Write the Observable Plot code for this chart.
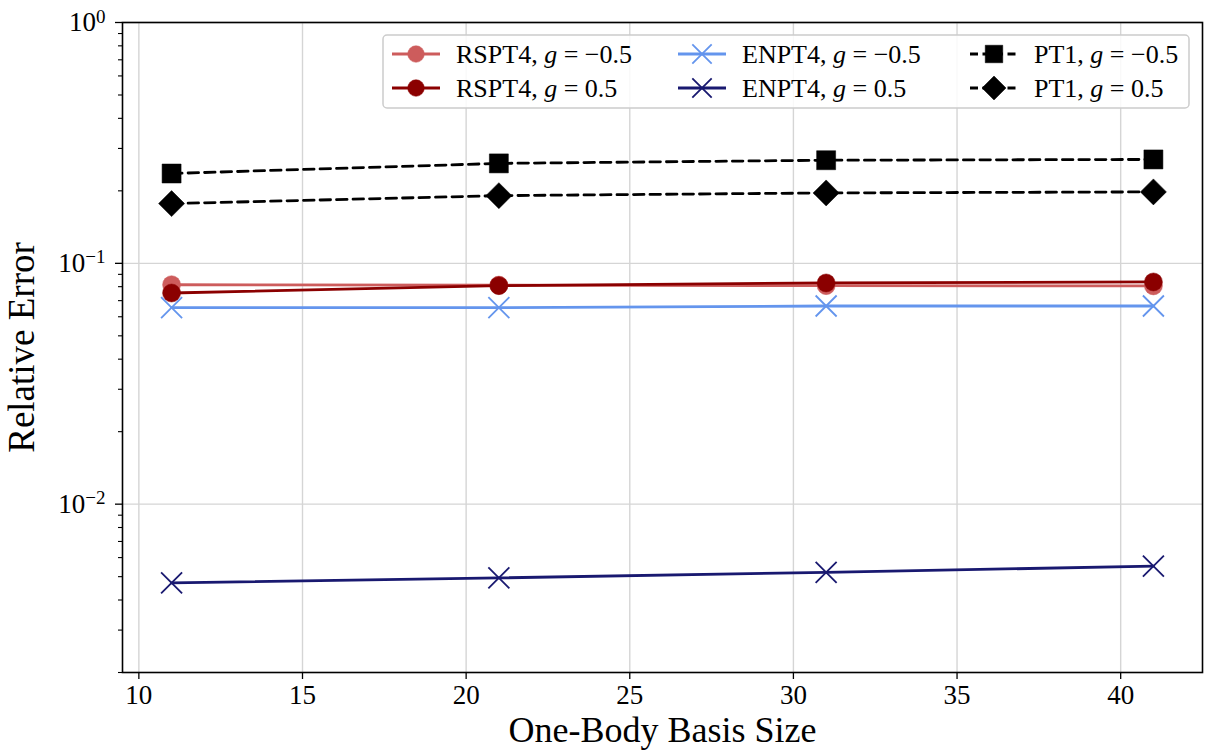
<!DOCTYPE html>
<html>
<head>
<meta charset="utf-8">
<script src="https://cdn.jsdelivr.net/npm/d3@7"></script>
<script src="https://cdn.jsdelivr.net/npm/@observablehq/plot@0.6"></script>
<style>
  html, body { margin: 0; padding: 0; background: white; }
  #wrap { position: relative; width: 1206px; height: 752px; overflow: hidden; }
  #legend { position: absolute; left: 0; top: 0; pointer-events: none; }
</style>
</head>
<body>
<div id="wrap"></div>
<script>
// ---- Data ----
const basisSizes = [11, 21, 31, 41];
const rspt4Neg = [0.0815, 0.0812, 0.0808, 0.0806];
const rspt4Pos = [0.0753, 0.0808, 0.0829, 0.0837];
const enpt4Neg = [0.0655, 0.0655, 0.0665, 0.0665];
const enpt4Pos = [0.00471, 0.00494, 0.00521, 0.00553];
const pt1Neg = [0.236, 0.260, 0.268, 0.270];
const pt1Pos = [0.177, 0.191, 0.196, 0.198];
const seriesLabels = [
  ["RSPT4", "−0.5"], ["RSPT4", "0.5"],
  ["ENPT4", "−0.5"], ["ENPT4", "0.5"],
  ["PT1", "−0.5"], ["PT1", "0.5"]
];
const xTicks = [10, 15, 20, 25, 30, 35, 40];
const yMajor = [1, 0.1, 0.01];
const yMinor = [2,3,4,5,6,7,8,9].flatMap(k => [k * 1e-3, k * 1e-2, k * 1e-1]);

// ---- Symbols ----
const rad = size => Math.sqrt(size / Math.PI);
const symCircle = { draw(ctx, size) { const r = rad(size); ctx.moveTo(r, 0); ctx.arc(0, 0, r, 0, 2 * Math.PI); } };
const symX = { draw(ctx, size) { const r = rad(size); ctx.moveTo(-r, -r); ctx.lineTo(r, r); ctx.moveTo(-r, r); ctx.lineTo(r, -r); } };
const symSquare = { draw(ctx, size) { const r = rad(size); ctx.rect(-r, -r, 2 * r, 2 * r); } };
const symDiamond = { draw(ctx, size) { const r = rad(size); ctx.moveTo(0, -r); ctx.lineTo(r, 0); ctx.lineTo(0, r); ctx.lineTo(-r, 0); ctx.closePath(); } };

const DASH = "10.5,6";
const styles = [
  { values: rspt4Neg, color: "#cd5c5c", sym: symCircle, r: 9, filled: true, dash: null },
  { values: rspt4Pos, color: "#8b0000", sym: symCircle, r: 9, filled: true, dash: null },
  { values: enpt4Neg, color: "#6495ed", sym: symX, r: 10.5, filled: false, dash: null },
  { values: enpt4Pos, color: "#191970", sym: symX, r: 10.5, filled: false, dash: null },
  { values: pt1Neg, color: "#000000", sym: symSquare, r: 9.5, filled: true, dash: DASH },
  { values: pt1Pos, color: "#000000", sym: symDiamond, r: 13, filled: true, dash: DASH }
];

const series = styles.map((s, i) => ({
  ...s,
  label: seriesLabels[i],
  rows: basisSizes.map((x, j) => ({ x, y: s.values[j] }))
}));

const FONT = "'Liberation Serif', 'DejaVu Serif', serif";
const GRID = "#d5d5d5";

const marks = [
  Plot.gridX(xTicks, { stroke: GRID, strokeOpacity: 1, strokeWidth: 1.4 }),
  Plot.gridY(yMajor, { stroke: GRID, strokeOpacity: 1, strokeWidth: 1.4 })
];
for (const s of series) {
  marks.push(Plot.line(s.rows, { x: "x", y: "y", stroke: s.color, strokeWidth: 2.8, strokeDasharray: s.dash }));
  marks.push(Plot.dot(s.rows, {
    x: "x", y: "y", r: s.r, symbol: s.sym,
    fill: s.filled ? s.color : "none",
    stroke: s.color, strokeWidth: s.filled ? 0.5 : 1.8
  }));
}
marks.push(
  Plot.frame({ stroke: "black", strokeWidth: 1.6 }),
  Plot.axisX(xTicks, { tickSize: 7, tickPadding: 5, fontSize: 27, label: null, tickFormat: d => String(d), strokeWidth: 1.3 }),
  Plot.axisY(yMinor, { tickSize: 4, tickFormat: () => "", label: null, strokeWidth: 1.1 }),
  Plot.axisY(yMajor, { tickSize: 7, tickPadding: 10, fontSize: 27, label: null, strokeWidth: 1.3,
    tickFormat: d => "10^" + Math.round(Math.log10(d)) }),
  Plot.text(["One-Body Basis Size"], { frameAnchor: "bottom", dy: 69, fontSize: 36, fill: "black", text: d => d }),
  Plot.text(["Relative Error"], { frameAnchor: "left", dx: -100, rotate: -90, textAnchor: "middle", fontSize: 37, fill: "black", text: d => d })
);

const chart = Plot.plot({
  width: 1206, height: 752,
  marginLeft: 122, marginRight: 4, marginTop: 22, marginBottom: 80,
  style: { fontFamily: FONT, background: "white", color: "black", overflow: "visible" },
  x: { domain: [9.5, 42.5] },
  y: { type: "log", domain: [0.002, 1] },
  marks
});
document.getElementById("wrap").appendChild(chart);

// Tick label size + superscript exponents
chart.querySelectorAll("text").forEach(el => {
  const t = el.textContent.trim();
  if (/^\d+$/.test(t)) {
    el.setAttribute("font-size", "27");
    el.style.fontSize = "27px";
    return;
  }
  const m = /^10\^(-?\d+)$/.exec(t);
  if (!m) return;
  const exp = m[1].replace("-", "−");
  el.setAttribute("font-size", "27");
  el.style.fontSize = "27px";
  const sel = d3.select(el);
  sel.text(null);
  sel.append("tspan").text("10");
  sel.append("tspan").attr("dy", "-0.45em").style("font-size", "19px").text(exp);
});

// ---- Legend overlay ----
const lg = d3.select("#wrap").append("svg")
  .attr("id", "legend").attr("width", 1206).attr("height", 752)
  .style("font-family", FONT);
lg.append("rect")
  .attr("x", 383).attr("y", 35).attr("width", 806).attr("height", 73).attr("rx", 4)
  .attr("fill", "white").attr("fill-opacity", 0.85)
  .attr("stroke", "#cccccc").attr("stroke-width", 1.5);
const colX = [392, 678, 970];
const rowY = [54, 88];
series.forEach((s, i) => {
  const col = Math.floor(i / 2), row = i % 2;
  const x0 = colX[col], y0 = rowY[row];
  const g = lg.append("g").attr("transform", `translate(${x0},${y0})`);
  g.append("line").attr("x1", 0).attr("x2", 48).attr("y1", 0).attr("y2", 0)
    .attr("stroke", s.color).attr("stroke-width", 2.8)
    .attr("stroke-dasharray", s.dash ? "8,4.5" : null);
  g.append("path")
    .attr("transform", "translate(24,0)")
    .attr("d", d3.symbol(s.sym, s.r * s.r * Math.PI * 0.85)())
    .attr("fill", s.filled ? s.color : "none")
    .attr("stroke", s.color).attr("stroke-width", s.filled ? 0.5 : 1.8);
  const tx = g.append("text").attr("x", 64).attr("y", 0).attr("dy", "0.35em")
    .style("font-size", "26px").style("font-family", FONT).attr("fill", "black");
  tx.append("tspan").text(s.label[0] + ", ");
  tx.append("tspan").attr("font-style", "italic").text("g");
  tx.append("tspan").text(" = " + s.label[1]);
});
</script>
</body>
</html>
